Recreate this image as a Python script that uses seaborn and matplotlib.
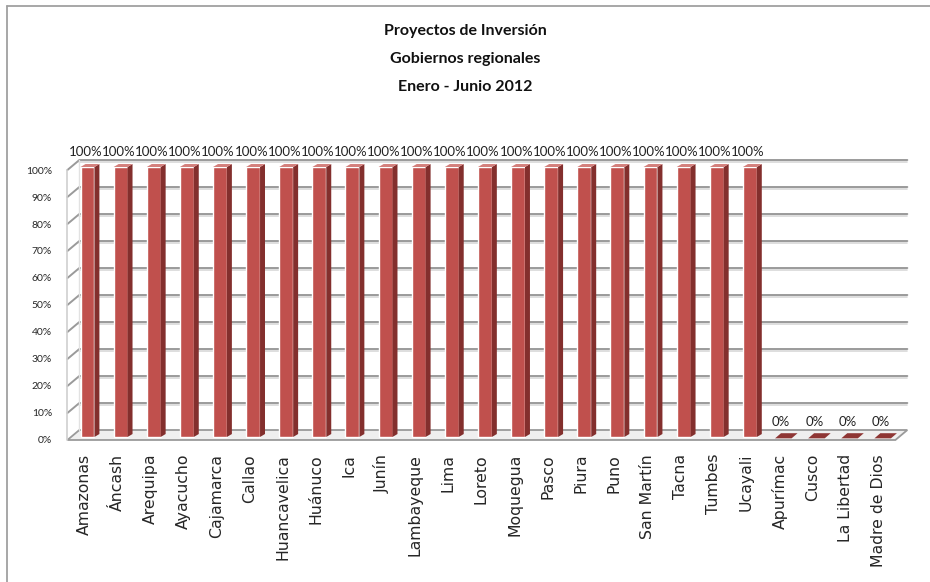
import matplotlib
matplotlib.use('Agg')
import matplotlib.pyplot as plt
import matplotlib.transforms as mtransforms
from matplotlib.patches import Polygon
from matplotlib.lines import Line2D
import pandas as pd
import seaborn as sns

regions = ["Amazonas", "Áncash", "Arequipa", "Ayacucho", "Cajamarca", "Callao",
           "Huancavelica", "Huánuco", "Ica", "Junín", "Lambayeque", "Lima",
           "Loreto", "Moquegua", "Pasco", "Piura", "Puno", "San Martín", "Tacna",
           "Tumbes", "Ucayali", "Apurímac", "Cusco", "La Libertad", "Madre de Dios"]
shares = [1.0] * 21 + [0.0] * 4
title_lines = ["Proyectos de Inversión", "Gobiernos regionales", "Enero - Junio 2012"]
yticks = [i / 10 for i in range(11)]

front_col = "#C0504D"
side_col = "#832F2D"
top_col = "#D4807C"
grid_col = "#9A9A9A"

df = pd.DataFrame({"region": regions, "share": shares})

sns.set_theme(style="white")
plt.rcParams['font.family'] = ['Lato', 'DejaVu Sans']

fig = plt.figure(figsize=(9.3, 5.82), dpi=100)
ax = fig.add_axes([0.0725, 0.244, 0.8903, 0.4639])

sns.barplot(data=df, x="region", y="share", color=front_col, saturation=1,
            width=0.42, ax=ax, zorder=3)
bars = list(ax.patches)

n = len(regions)
ax.set_xlim(-0.5, n - 0.5)
ax.set_ylim(0, 1)

# depth of the back wall (data units)
wdx, wdy = 0.36, 0.037
# depth of each bar
bdx, bdy = 0.15, 0.011

# floor
floor = Polygon([(-0.5, 0), (n - 0.5, 0), (n - 0.5 + wdx, wdy), (-0.5 + wdx, wdy)],
                closed=True, facecolor="#EFEFEF", edgecolor=grid_col, lw=1.3,
                zorder=1, clip_on=False)
ax.add_patch(floor)

# back wall gridlines and left wall
for yv in yticks[1:]:
    ax.plot([-0.5, -0.5 + wdx, n - 0.5 + wdx], [yv, yv + wdy, yv + wdy],
            color=grid_col, lw=1.4, zorder=1, clip_on=False)
    ax.plot([-0.5 + wdx, n - 0.5 + wdx], [yv + wdy - 0.006, yv + wdy - 0.006],
            color="#D8D8D8", lw=1.2, zorder=0.9, clip_on=False)
ax.plot([-0.5, -0.5], [0, 1], color="#CFCFCF", lw=1.2, zorder=1, clip_on=False)
ax.plot([-0.5 + wdx, -0.5 + wdx], [wdy, 1 + wdy], color="#E2E2E2", lw=1.0,
        zorder=1, clip_on=False)

# 3D faces of the bars
shift = mtransforms.ScaledTranslation(0.035, 0.03, fig.dpi_scale_trans)
for p, v in zip(bars, shares):
    tr = ax.transData + shift
    p.set_transform(tr)
    p.set_clip_on(False)
    x0, w, h = p.get_x(), p.get_width(), p.get_height()
    side = Polygon([(x0 + w, 0), (x0 + w + bdx, bdy), (x0 + w + bdx, h + bdy), (x0 + w, h)],
                   closed=True, facecolor=side_col, edgecolor="none", transform=tr,
                   zorder=3, clip_on=False)
    if h > 0:
        top = Polygon([(x0, h), (x0 + w, h), (x0 + w + bdx, h + bdy), (x0 + bdx, h + bdy)],
                      closed=True, facecolor=top_col, edgecolor="none", transform=tr,
                      zorder=3, clip_on=False)
        ax.add_patch(side)
    else:
        top = Polygon([(x0 - 0.03, -0.005), (x0 + w + 0.05, -0.005),
                       (x0 + w + bdx + 0.08, 0.014), (x0 + bdx, 0.014)],
                      closed=True, facecolor="#8E3634", edgecolor="none", transform=tr,
                      zorder=3, clip_on=False)
    ax.add_patch(top)
    ax.text(x0 + w / 2 + 0.05, h + 0.045, f"{v:.0%}", ha="center", va="bottom",
            fontsize=9.5, color="#222222", clip_on=False)

ax.set_yticks(yticks)
ax.set_yticklabels([f"{t:.0%}" for t in yticks], fontsize=7.5)
ax.tick_params(axis="y", length=0, pad=11)
ax.set_xticks(range(n))
ax.set_xticklabels(regions, rotation=90, fontsize=11.3, family=["DejaVu Sans"])
ax.tick_params(axis="x", length=0, pad=10)
ax.set_xlabel("")
ax.set_ylabel("")
for s in ax.spines.values():
    s.set_visible(False)

for i, line in enumerate(title_lines):
    fig.text(0.5, 1 - (31 + 28 * i) / 582, line, ha="center", va="center",
             fontsize=11.5, fontweight="bold", color="#111111")

# chart border (only top and left visible)
fig.add_artist(Line2D([7 / 930, 7 / 930], [0, 1 - 6 / 582], color="#A0A0A0", lw=1.3))
fig.add_artist(Line2D([7 / 930, 1], [1 - 6 / 582, 1 - 6 / 582], color="#A0A0A0", lw=1.3))

plt.savefig("out.png", dpi=100)
